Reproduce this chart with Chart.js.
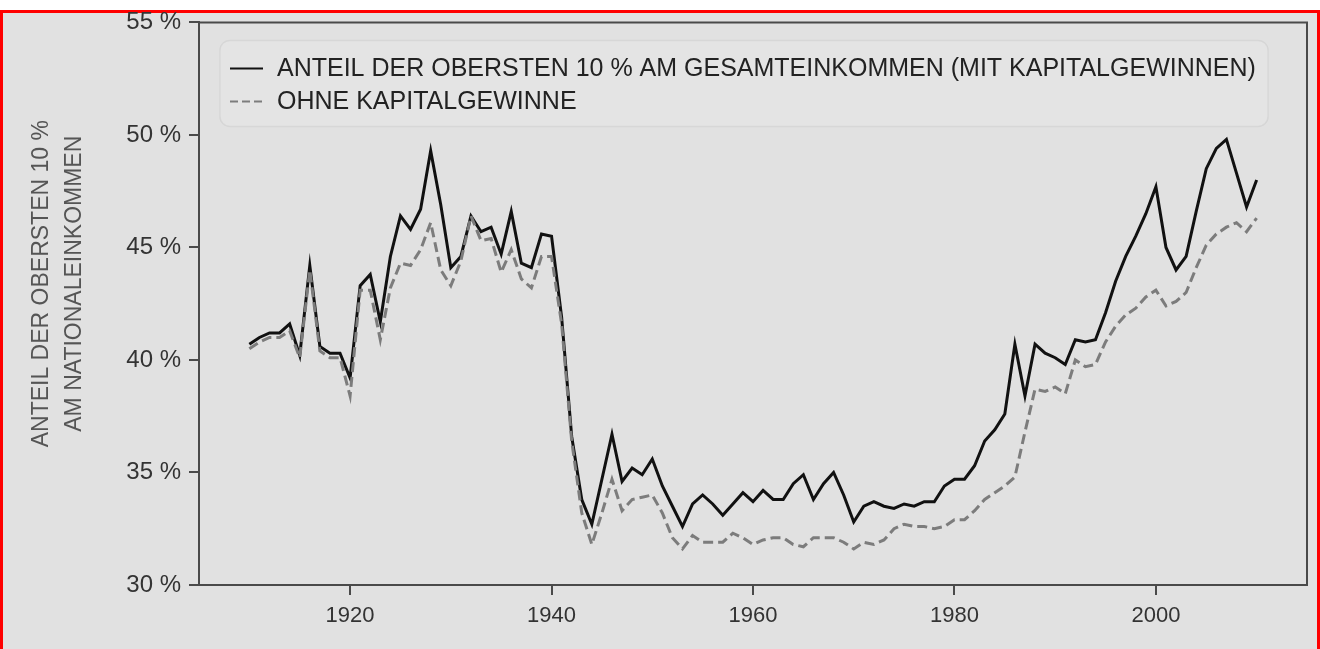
<!DOCTYPE html>
<html>
<head>
<meta charset="utf-8">
<script src="https://cdn.jsdelivr.net/npm/chart.js@4"></script>
<style>
  body { margin: 0; background: #fff; }
  #frame {
    position: absolute; left: 0; top: 10px; width: 1320px; height: 639px;
    box-sizing: border-box; border: 3px solid #f00; border-bottom: none;
    background: #e1e1e1;
  }
  #wrap { position: absolute; left: 0; top: 0; width: 1320px; height: 649px; }
</style>
</head>
<body>
<div id="frame"></div>
<div id="wrap"><canvas id="incomeChart"></canvas></div>
<script>
// top decile income share, USA, 1910-2010
const years = Array.from({ length: 101 }, (_, i) => 1910 + i);

const shareWithGains = [
  40.7, 41.0, 41.2, 41.2, 41.6, 40.2, 44.2, 40.6, 40.3, 40.3,
  39.2, 43.3, 43.8, 41.7, 44.6, 46.4, 45.8, 46.7, 49.3, 46.9,
  44.1, 44.6, 46.4, 45.7, 45.9, 44.7, 46.6, 44.3, 44.1, 45.6,
  45.5, 41.9, 36.6, 33.8, 32.7, 34.7, 36.7, 34.6, 35.2, 34.9,
  35.6, 34.4, 33.5, 32.6, 33.6, 34.0, 33.6, 33.1, 33.6, 34.1,
  33.7, 34.2, 33.8, 33.8, 34.5, 34.9, 33.8, 34.5, 35.0, 34.0,
  32.8, 33.5, 33.7, 33.5, 33.4, 33.6, 33.5, 33.7, 33.7, 34.4,
  34.7, 34.7, 35.3, 36.4, 36.9, 37.6, 40.7, 38.4, 40.7, 40.3,
  40.1, 39.8, 40.9, 40.8, 40.9, 42.1, 43.5, 44.6, 45.5, 46.5,
  47.7, 45.0, 44.0, 44.6, 46.6, 48.5, 49.4, 49.8, 48.3, 46.8,
  48.0
];

const shareWithoutGains = [
  40.5, 40.8, 41.0, 41.0, 41.3, 40.1, 44.0, 40.4, 40.1, 40.1,
  38.4, 43.1, 43.1, 40.9, 43.2, 44.3, 44.2, 44.9, 46.1, 44.0,
  43.3, 44.4, 46.4, 45.3, 45.4, 43.9, 44.9, 43.6, 43.2, 44.6,
  44.6, 41.6, 36.4, 33.2, 31.8, 33.2, 34.7, 33.3, 33.8, 33.9,
  34.0, 33.2, 32.1, 31.6, 32.2, 31.9, 31.9, 31.9, 32.3, 32.1,
  31.8, 32.0, 32.1, 32.1, 31.8, 31.7, 32.1, 32.1, 32.1, 31.9,
  31.6, 31.9, 31.8, 32.0, 32.5, 32.7, 32.6, 32.6, 32.5, 32.6,
  32.9, 32.9, 33.3, 33.8, 34.1, 34.4, 34.8, 36.8, 38.7, 38.6,
  38.8, 38.5, 40.0, 39.7, 39.8, 40.8, 41.5, 42.0, 42.3, 42.8,
  43.1, 42.4, 42.6, 43.0, 44.1, 45.1, 45.6, 45.9, 46.1, 45.7,
  46.3
];

const seriesLabels = [
  "ANTEIL DER OBERSTEN 10 % AM GESAMTEINKOMMEN (MIT KAPITALGEWINNEN)",
  "OHNE KAPITALGEWINNE"
];
const yTitle = ["ANTEIL DER OBERSTEN 10 %", "AM NATIONALEINKOMMEN"];
const xTicks = [1920, 1940, 1960, 1980, 2000];
const yTicks = [30, 35, 40, 45, 50, 55];

const FONT = "'Liberation Sans', Arial, sans-serif";
const AXIS = "#4a4a4a";

// box on top/right of the plot
const frameBox = {
  id: "frameBox",
  afterDraw(chart) {
    const { ctx, chartArea: a } = chart;
    ctx.save();
    ctx.strokeStyle = AXIS;
    ctx.lineWidth = 2;
    ctx.beginPath();
    ctx.moveTo(a.left, a.top);
    ctx.lineTo(a.right, a.top);
    ctx.lineTo(a.right, a.bottom);
    ctx.stroke();
    ctx.restore();
  }
};

// rotated y title, two lines
const yTitlePlugin = {
  id: "yTitlePlugin",
  afterDraw(chart) {
    const ctx = chart.ctx;
    const cy = (chart.chartArea.top + chart.chartArea.bottom) / 2 - 20;
    ctx.save();
    ctx.fillStyle = "#555";
    ctx.font = "23px " + FONT;
    ctx.textAlign = "center";
    ctx.textBaseline = "middle";
    yTitle.forEach((line, i) => {
      ctx.save();
      ctx.translate(42 + i * 33, cy);
      ctx.rotate(-Math.PI / 2);
      ctx.fillText(line, 0, 0);
      ctx.restore();
    });
    ctx.restore();
  }
};

// legend inside the plot
const legendBox = {
  id: "legendBox",
  afterDatasetsDraw(chart) {
    const { ctx, chartArea: a } = chart;
    const left = a.left + 21, top = a.top + 18;
    ctx.save();
    ctx.beginPath();
    ctx.roundRect(left, top, 1048, 86, 10);
    ctx.fillStyle = "rgba(255,255,255,0.10)";
    ctx.fill();
    ctx.strokeStyle = "rgba(0,0,0,0.05)";
    ctx.lineWidth = 1.5;
    ctx.stroke();

    ctx.font = "25px " + FONT;
    ctx.textBaseline = "middle";
    chart.data.datasets.forEach((ds, i) => {
      const y = top + 28 + i * 33;
      ctx.beginPath();
      ctx.strokeStyle = ds.borderColor;
      ctx.lineWidth = 2;
      ctx.setLineDash(ds.borderDash.length ? [8, 4] : []);
      ctx.moveTo(left + 10, y);
      ctx.lineTo(left + 43, y);
      ctx.stroke();
      ctx.setLineDash([]);
      ctx.fillStyle = "#222";
      ctx.fillText(ds.label, left + 57, y + 1);
    });
    ctx.restore();
  }
};

const ctx = document.getElementById("incomeChart").getContext("2d");
const incomeChart = new Chart(ctx, {
  type: "line",
  data: {
    datasets: [
      {
        label: seriesLabels[0],
        data: years.map((yr, i) => ({ x: yr, y: shareWithGains[i] })),
        borderColor: "#111",
        borderWidth: 3,
        borderDash: [],
        order: 1
      },
      {
        label: seriesLabels[1],
        data: years.map((yr, i) => ({ x: yr, y: shareWithoutGains[i] })),
        borderColor: "#7c7c7c",
        borderWidth: 3,
        borderDash: [10, 5],
        order: 0
      }
    ]
  },
  options: {
    responsive: true,
    maintainAspectRatio: false,
    animation: false,
    layout: { padding: { left: 0, top: 22, right: 13, bottom: 0 } },
    elements: {
      point: { radius: 0 },
      line: { tension: 0, borderJoinStyle: "miter", fill: false }
    },
    plugins: {
      legend: { display: false },
      tooltip: { enabled: false }
    },
    scales: {
      x: {
        type: "linear",
        min: 1905,
        max: 2015,
        afterBuildTicks: (scale) => { scale.ticks = xTicks.map((v) => ({ value: v })); },
        afterFit: (scale) => { scale.height = 64; },
        grid: { display: true, drawOnChartArea: false, drawTicks: true, tickLength: 10, color: AXIS, lineWidth: 2 },
        border: { display: true, color: AXIS, width: 2 },
        ticks: {
          color: "#333",
          padding: 8,
          maxRotation: 0,
          font: { family: FONT, size: 22 },
          callback: (v) => String(v)
        }
      },
      y: {
        min: 30,
        max: 55,
        afterBuildTicks: (scale) => { scale.ticks = yTicks.map((v) => ({ value: v })); },
        afterFit: (scale) => { scale.width = 199; },
        grid: { display: true, drawOnChartArea: false, drawTicks: true, tickLength: 10, color: AXIS, lineWidth: 2 },
        border: { display: true, color: AXIS, width: 2 },
        ticks: {
          color: "#333",
          padding: 8,
          font: { family: FONT, size: 24 },
          callback: (v) => v + " %"
        }
      }
    }
  },
  plugins: [frameBox, yTitlePlugin, legendBox]
});
</script>
</body>
</html>
